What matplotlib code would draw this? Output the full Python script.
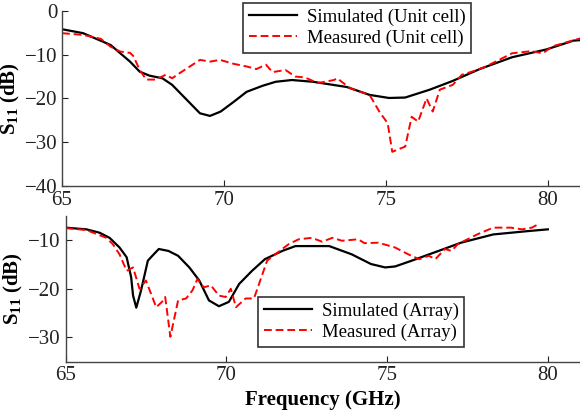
import matplotlib
matplotlib.use('Agg')
import matplotlib.pyplot as plt

plt.rcParams['font.family'] = 'Liberation Serif'
plt.rcParams['mathtext.fontset'] = 'custom'
plt.rcParams['mathtext.rm'] = 'Liberation Serif'
plt.rcParams['mathtext.bf'] = 'Liberation Serif:bold'

# ---- Unit cell (top panel) ----
uc_sim_f = [65.0, 65.65, 66.5, 67.1, 67.4, 67.7, 68.1, 68.4, 68.85, 69.26, 69.57, 69.9,
            70.3, 70.7, 71.2, 71.6, 72.1, 72.75, 73.8, 74.5, 75.1, 75.6, 76.36, 77.07,
            77.9, 78.9, 79.97, 80.8, 81.0]
uc_sim_s = [-4.2, -5.1, -7.8, -11.6, -13.9, -14.8, -15.4, -16.9, -20.3, -23.4, -24.0, -23.0,
            -20.8, -18.5, -17.1, -16.2, -15.8, -16.2, -17.4, -19.2, -19.9, -19.8, -18.0, -16.0,
            -13.3, -10.6, -8.8, -6.8, -6.7]

uc_meas_f = [65.0, 65.65, 66.2, 66.5, 66.8, 67.1, 67.2, 67.4, 67.6, 67.9, 68.2, 68.4, 68.7,
             69.26, 69.57, 69.88, 70.3, 70.7, 71.0, 71.3, 71.5, 71.9, 72.2, 72.5, 72.9,
             73.4, 73.5, 73.9, 74.5, 74.8, 75.06, 75.2, 75.6, 75.8, 76.0, 76.26, 76.45,
             76.67, 77.07, 77.35, 77.7, 78.1, 78.9, 79.5, 79.85, 80.15, 81.0]
uc_meas_s = [-5.1, -5.5, -6.4, -8.2, -9.3, -9.6, -10.3, -13.5, -15.7, -15.7, -14.6, -15.4, -13.9,
             -11.2, -11.6, -11.2, -12.1, -12.7, -13.3, -12.3, -14.0, -13.5, -15.0, -15.2, -16.5,
             -15.8, -15.4, -17.7, -19.2, -23.0, -25.7, -32.2, -31.0, -24.2, -25.3, -20.0, -23.0,
             -18.0, -16.9, -14.6, -13.8, -12.7, -9.7, -9.2, -9.7, -8.1, -6.3]

# ---- Array (bottom panel) ----
ar_sim_f = [65.0, 65.65, 66.06, 66.37, 66.68, 66.9, 67.04, 67.1, 67.2, 67.35, 67.56, 67.7,
            67.9, 68.2, 68.5, 68.85, 69.16, 69.46, 69.77, 70.08, 70.4, 70.8, 71.2, 71.74,
            72.15, 73.2, 73.9, 74.5, 74.94, 75.25, 75.77, 76.6, 77.3, 78.3, 79.4, 80.0]
ar_sim_s = [-7.4, -7.75, -8.45, -9.5, -11.5, -13.5, -17.6, -21.4, -23.9, -20.3, -14.2, -13.2,
            -11.8, -12.2, -13.2, -15.6, -18.3, -22.4, -23.6, -22.7, -19.0, -16.3, -13.9, -12.2,
            -11.2, -11.2, -12.9, -14.9, -15.6, -15.4, -14.2, -12.2, -10.5, -8.8, -8.1, -7.75]

ar_meas_f = [65.0, 65.65, 66.27, 66.47, 66.68, 66.9, 67.1, 67.3, 67.5, 67.82, 68.0, 68.1,
             68.26, 68.5, 68.75, 68.95, 69.1, 69.3, 69.52, 69.77, 69.98, 70.14, 70.3, 70.6,
             70.86, 71.27, 71.74, 71.94, 72.25, 72.66, 72.98, 73.3, 73.6, 74.1, 74.3, 74.73,
             75.25, 75.66, 76.0, 76.3, 76.5, 76.8, 77.0, 77.2, 77.8, 78.3, 78.85, 79.2,
             79.5, 79.7]
ar_meas_s = [-7.5, -7.9, -9.5, -10.8, -12.9, -16.3, -15.6, -20.0, -18.3, -23.8, -22.7, -21.7,
             -29.9, -22.4, -22.0, -20.3, -18.0, -19.7, -19.3, -21.4, -21.7, -20.0, -23.8, -22.0,
             -22.0, -14.2, -11.8, -10.8, -9.8, -9.5, -10.3, -9.5, -10.1, -9.8, -10.6, -10.5,
             -11.5, -12.9, -13.9, -13.2, -13.9, -11.8, -12.2, -10.8, -8.8, -7.4, -7.4, -7.75,
             -7.4, -6.7]

fig = plt.figure(figsize=(5.8, 4.17), dpi=100)
ax1 = fig.add_axes([0.107, 0.554, 0.893, 0.420])
ax2 = fig.add_axes([0.113, 0.133, 0.887, 0.349])

ax1.plot(uc_sim_f, uc_sim_s, color='black', lw=1.6, label='Simulated (Unit cell)')
ax1.plot(uc_meas_f, uc_meas_s, color='red', lw=1.4, ls='--', dashes=(4, 2),
         label='Measured (Unit cell)')
ax1.set_xlim(65, 81)
ax1.set_ylim(-40, 0)
ax1.set_xticks([65, 70, 75, 80])
ax1.set_yticks([0, -10, -20, -30, -40])

ax2.plot(ar_sim_f, ar_sim_s, color='black', lw=1.6, label='Simulated (Array)')
ax2.plot(ar_meas_f, ar_meas_s, color='red', lw=1.4, ls='--', dashes=(4, 2),
         label='Measured (Array)')
ax2.set_xlim(65, 81)
ax2.set_ylim(-35, -5)
ax2.set_xticks([65, 70, 75, 80])
ax2.set_yticks([-10, -20, -30])

for ax in (ax1, ax2):
    for s in ('top', 'right'):
        ax.spines[s].set_visible(False)
    for s in ('left', 'bottom'):
        ax.spines[s].set_color('#444444')
        ax.spines[s].set_linewidth(1.0)
    ax.tick_params(direction='in', labelsize=15, length=4, colors='#222222')
    ax.set_ylabel(r'$\mathbf{S_{11}}$ (dB)', fontsize=15, fontweight='bold', labelpad=2)

ax2.set_xlabel('Frequency (GHz)', fontsize=15, fontweight='bold', labelpad=3)

leg_kw = dict(fontsize=13.5, frameon=True, fancybox=False, edgecolor='black',
              handlelength=2.6, borderpad=0.3, labelspacing=0.2, handletextpad=0.5,
              borderaxespad=0)
l1 = ax1.legend(loc='upper left', bbox_to_anchor=(243 / 580, 1 - 3 / 417),
                bbox_transform=fig.transFigure, **leg_kw)
l2 = ax2.legend(loc='upper left', bbox_to_anchor=(258 / 580, 1 - 297 / 417),
                bbox_transform=fig.transFigure, **leg_kw)
for l in (l1, l2):
    l.get_frame().set_linewidth(1.2)

fig.savefig('out.png', dpi=100)
